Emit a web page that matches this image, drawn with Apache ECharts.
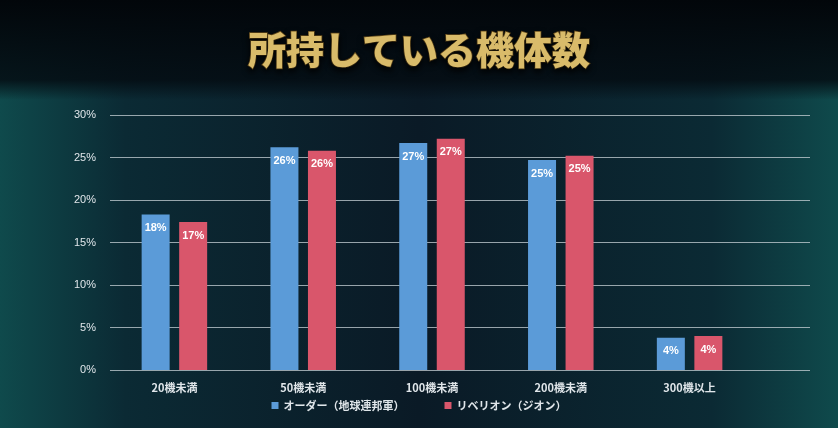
<!DOCTYPE html>
<html>
<head>
<meta charset="UTF-8"/>
<title></title>
<script src="https://cdn.jsdelivr.net/npm/echarts@6/dist/echarts.min.js"></script>
<style>
html,body{margin:0;padding:0;background:#06121c;}
#main{width:838px;height:428px;}
</style>
</head>
<body>
<div id="main"></div>
<script>
var categories = ['20機未満', '50機未満', '100機未満', '200機未満', '300機以上'];
var orderData = [18.3, 26.2, 26.7, 24.7, 3.8];
var rebellionData = [17.4, 25.8, 27.2, 25.2, 4.0];
var orderLabels = ['18%', '26%', '27%', '25%', '4%'];
var rebellionLabels = ['17%', '26%', '27%', '25%', '4%'];

var myChart = echarts.init(document.getElementById('main'));
var labelStyle = function (texts) {
    return {
        show: true,
        position: 'insideTop',
        distance: 8,
        color: '#fff',
        fontWeight: 'bold',
        fontSize: 11,
        formatter: function (p) { return texts[p.dataIndex]; }
    };
};
var option = {
    backgroundColor: {
        type: 'linear', x: 0, y: 0, x2: 1, y2: 0,
        colorStops: [
            { offset: 0, color: '#0f4a4c' },
            { offset: 0.15, color: '#0b2a34' },
            { offset: 0.5, color: '#0a1a26' },
            { offset: 0.85, color: '#0b2a34' },
            { offset: 1, color: '#0f4a4c' }
        ]
    },
    graphic: [{
        type: 'rect',
        shape: { x: 0, y: 0, width: 838, height: 100 },
        style: {
            fill: {
                type: 'linear', x: 0, y: 0, x2: 0, y2: 1,
                colorStops: [
                    { offset: 0, color: 'rgba(2,6,10,1)' },
                    { offset: 0.8, color: 'rgba(4,12,18,0.85)' },
                    { offset: 1, color: 'rgba(4,12,18,0)' }
                ]
            }
        },
        z: -10
    }],
    title: {
        text: '所持している機体数',
        left: 'center',
        top: 26,
        textStyle: {
            fontFamily: 'Noto Sans CJK JP',
            fontSize: 38,
            fontWeight: 900,
            color: '#d9bb6a',
            textBorderColor: '#6b4f1c',
            textBorderWidth: 1.5,
            textShadowColor: 'rgba(0,0,0,0.9)',
            textShadowBlur: 6,
            textShadowOffsetY: 3
        }
    },
    legend: {
        bottom: 12,
        itemWidth: 7,
        itemHeight: 7,
        itemGap: 40,
        icon: 'rect',
        textStyle: { color: '#e0e6ea', fontSize: 11, fontFamily: 'Noto Sans CJK JP', fontWeight: 'bold' },
        data: ['オーダー（地球連邦軍）', 'リベリオン（ジオン）']
    },
    grid: [
        { left: 110, right: 84, top: 115, bottom: 58 },
        { left: 110, right: 28, top: 115, bottom: 58 }
    ],
    xAxis: [{
        type: 'category',
        gridIndex: 0,
        data: categories,
        axisLine: { show: false },
        axisTick: { show: false },
        axisLabel: { color: '#e0e6ea', fontSize: 11, fontWeight: 'bold', margin: 12, fontFamily: 'Noto Sans CJK JP' }
    }, {
        type: 'value',
        gridIndex: 1,
        show: false
    }],
    yAxis: [{
        type: 'value',
        gridIndex: 0,
        min: 0,
        max: 30,
        interval: 5,
        axisLabel: { show: false },
        splitLine: { show: false },
        axisLine: { show: false },
        axisTick: { show: false }
    }, {
        type: 'value',
        gridIndex: 1,
        min: 0,
        max: 30,
        interval: 5,
        axisLabel: { formatter: '{value}%', color: '#e0e6ea', fontSize: 11, margin: 14 },
        splitLine: { lineStyle: { color: 'rgba(200,210,215,0.75)' } },
        axisLine: { show: false },
        axisTick: { show: false }
    }],
    series: [
        {
            name: 'オーダー（地球連邦軍）',
            type: 'bar',
            data: orderData,
            barWidth: 28,
            barGap: '34%',
            itemStyle: { color: '#5b9bd8' },
            label: labelStyle(orderLabels)
        },
        {
            name: 'リベリオン（ジオン）',
            type: 'bar',
            data: rebellionData,
            barWidth: 28,
            itemStyle: { color: '#d9566b' },
            label: labelStyle(rebellionLabels)
        }
    ]
};
myChart.setOption(option);
</script>
</body>
</html>
